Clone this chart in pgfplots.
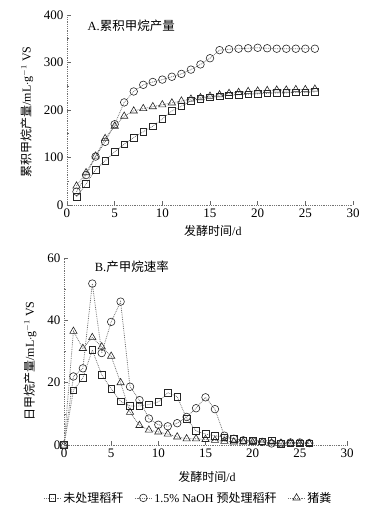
\documentclass[border=0pt]{standalone}
\usepackage{pgfplots}
\pgfplotsset{compat=1.18}
\usepackage{fontspec}
\setmainfont{Liberation Serif}
\newfontfamily\cjk{Noto Sans CJK SC}

\pgfplotsset{
  base/.style={
    scale only axis, clip=false,
    axis lines=left,
    axis line style={densely dotted, black!55, line width=0.8pt, -},
    tick style={black!60, line width=0.6pt},
    tick align=inside,
    major tick length=4pt, minor tick length=2pt,
    xmin=0, xmax=30, xtick={0,5,...,30},
    minor x tick num=0,
    font=\fontsize{12}{14}\selectfont,
    tick label style={font=\fontsize{13}{15}\selectfont},
    /pgf/number format/assume math mode=true,
  },
  sq/.style={densely dotted, black!55, line width=0.8pt, mark=square, mark size=3.3pt,
             mark options={solid, black!85, fill=white, line width=0.6pt}},
  ci/.style={densely dotted, black!55, line width=0.8pt, mark=o, mark size=3.8pt,
             mark options={solid, black!85, fill=white, line width=0.6pt}},
  tr/.style={densely dotted, black!55, line width=0.8pt, mark=triangle, mark size=4.2pt,
             mark options={solid, black!85, fill=white, line width=0.6pt}},
}

\begin{document}
\begin{tikzpicture}
\useasboundingbox (0pt,0pt) rectangle (367pt,511pt);

% ---------------- A: cumulative methane yield
\begin{axis}[base,
  at={(67pt,306pt)}, anchor=south west,
  width=286pt, height=190pt,
  ymin=0, ymax=400, ytick={0,100,...,400}, minor y tick num=1,
  xlabel={{\cjk 发酵时间}/d},
  xlabel style={at={(axis description cs:0.51,-0.135)}, anchor=center},
  ylabel={{\cjk 累积甲烷产量}/mL$\cdot$g$^{-1}$ VS},
  ylabel style={at={(axis description cs:-0.14,0.49)}, anchor=center},
]
\addplot[sq] coordinates {
(1,17.5)(2,44)(3,74)(4,93)(5,112)(6,128)(7,142)(8,154)(9,166)(10,181)
(11,198)(12,208)(13,219)(14,224)(15,227)(16,229)(17,231)(18,232)(19,233)(20,234)
(21,235)(22,236)(23,236)(24,237)(25,237)(26,238)};
\addplot[ci] coordinates {
(1,28)(2,63)(3,102)(4,133)(5,170)(6,216)(7,239)(8,253)(9,259)(10,264)
(11,270)(12,276)(13,285)(14,296)(15,309)(16,326)(17,328)(18,329)(19,330)(20,331)
(21,330)(22,329)(23,329)(24,329)(25,329)(26,329)};
\addplot[tr] coordinates {
(1,40)(2,68)(3,103)(4,140)(5,166)(6,187)(7,198)(8,203)(9,207)(10,211)
(11,215)(12,219)(13,223)(14,226)(15,229)(16,232)(17,235)(18,237)(19,239)(20,240)
(21,241)(22,242)(23,242)(24,243)(25,243)(26,244)};
\node[anchor=west, font=\fontsize{12.5}{14}\selectfont] at (axis cs:1.8,378) {A.{\cjk 累积甲烷产量}};
\end{axis}

% ---------------- B: daily methane production rate
\begin{axis}[base,
  at={(64pt,66pt)}, anchor=south west,
  width=283pt, height=187pt,
  ymin=0, ymax=60, ytick={0,20,40,60}, minor y tick num=1,
  xlabel={{\cjk 发酵时间}/d},
  xlabel style={at={(axis description cs:0.505,-0.17)}, anchor=center},
  ylabel={{\cjk 日甲烷产量}/mL$\cdot$g$^{-1}$ VS},
  ylabel style={at={(axis description cs:-0.12,0.45)}, anchor=center},
  legend columns=3,
  legend style={at={(axis description cs:0.44,-0.283)}, anchor=center, draw=none,
    font=\fontsize{12}{14}\selectfont,
    /tikz/every even column/.append style={column sep=9pt}},
  legend cell align=left,
]
\addplot[sq] coordinates {
(0,0)(1,17.5)(2,21.5)(3,30.5)(4,22.5)(5,18)(6,14)(7,12.5)(8,12.5)(9,13)(10,13.8)
(11,16.8)(12,15.5)(13,8.5)(14,4.5)(15,3.5)(16,3)(17,2.5)(18,2)(19,1.5)(20,1.5)
(21,1.2)(22,1.5)(23,0.3)(24,0.5)(25,0.5)(26,0.5)};
\addlegendentry{\cjk 未处理稻秆}
\addplot[ci] coordinates {
(0,0)(1,22)(2,24.6)(3,51.8)(4,29.5)(5,39.5)(6,46)(7,18.7)(8,14.4)(9,8.5)(10,6.5)
(11,6)(12,7)(13,9)(14,11.8)(15,15.3)(16,11.5)(17,3)(18,2)(19,1.5)(20,1.2)
(21,1)(22,0.5)(23,0.5)(24,0.8)(25,0.8)(26,0.6)};
\addlegendentry{1.5\% NaOH {\cjk 预处理稻秆}}
\addplot[tr] coordinates {
(0,0)(1,36.5)(2,31)(3,34.5)(4,31.5)(5,28.5)(6,20)(7,10.5)(8,6.3)(9,4.8)(10,4.2)
(11,3.5)(12,2.6)(13,2)(14,2)(15,1.8)(16,1.5)(17,1.2)(18,1)(19,1)(20,0.8)
(21,0.8)(22,0.7)(23,0.6)(24,0.6)(25,0.5)(26,0.5)};
\addlegendentry{\cjk 猪粪}
\node[anchor=west, font=\fontsize{12.5}{14}\selectfont] at (axis cs:2.9,57.3) {B.{\cjk 产甲烷速率}};
\end{axis}
\end{tikzpicture}
\end{document}
